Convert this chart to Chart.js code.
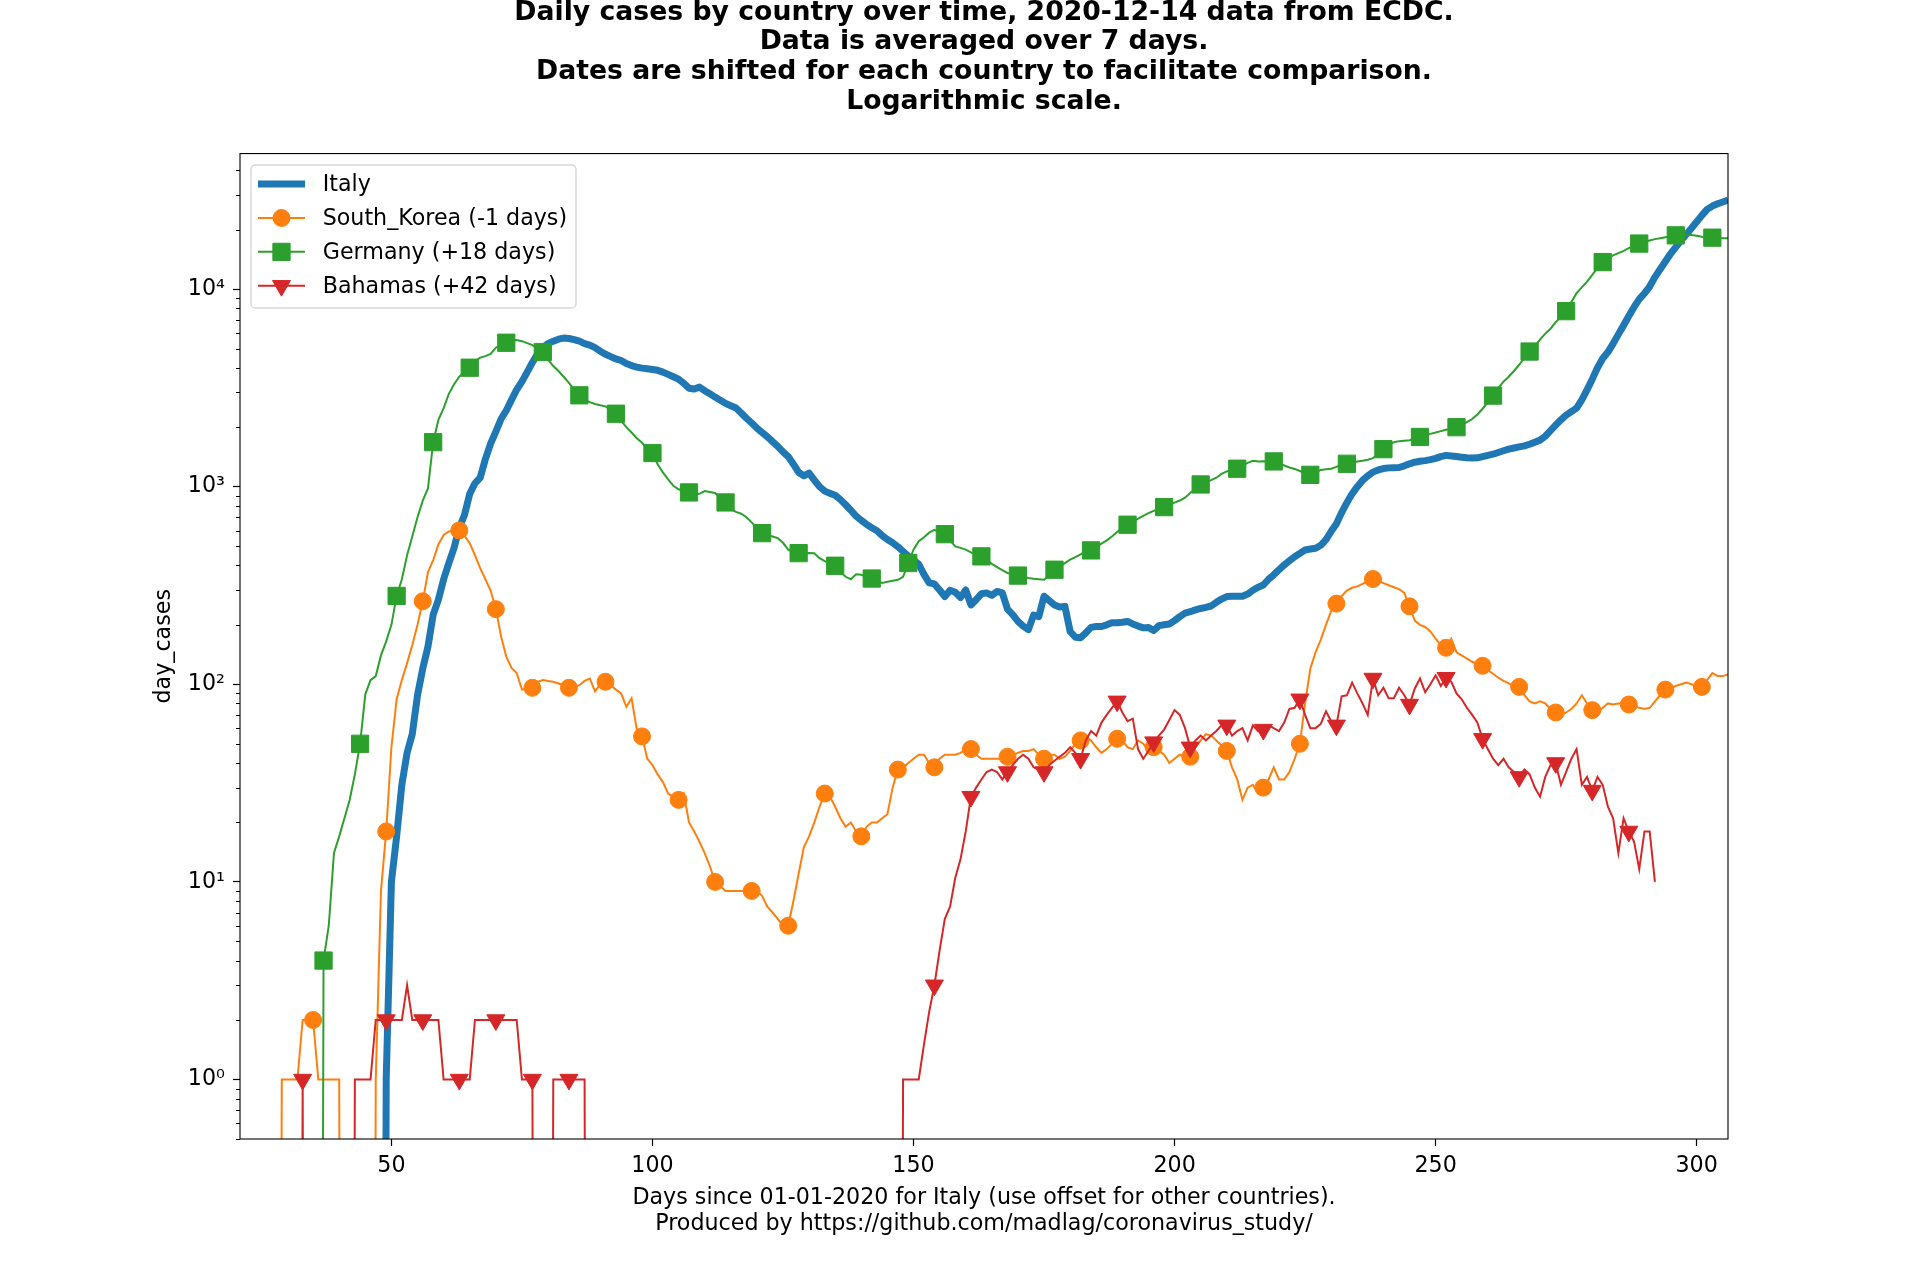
<!DOCTYPE html>
<html>
<head>
<meta charset="utf-8">
<title>Daily cases by country over time</title>
<script src="https://cdn.jsdelivr.net/npm/chart.js@4.4.1/dist/chart.umd.min.js"></script>
<style>
  html, body { margin: 0; padding: 0; background: #fff; }
  #wrap { width: 1920px; height: 1280px; position: relative; }
</style>
</head>
<body>
<div id="wrap"><canvas id="chart"></canvas></div>
<script>
/* ---------- texts ---------- */
const titleLines = [
  'Daily cases by country over time, 2020-12-14 data from ECDC.',
  'Data is averaged over 7 days.',
  'Dates are shifted for each country to facilitate comparison.',
  'Logarithmic scale.'
];
const xLabelLines = [
  'Days since 01-01-2020 for Italy (use offset for other countries).',
  'Produced by https://github.com/madlag/coronavirus_study/'
];
const yLabel = 'day_cases';

/* ---------- axes ---------- */
const xTicks = [50, 100, 150, 200, 250, 300];
const yTicks = [1, 10, 100, 1000, 10000];
const yTickLabels = ['10⁰', '10¹', '10²', '10³', '10⁴'];

/* ---------- series (7-day averaged daily cases, one value per day) ---------- */
const italyLabel = 'Italy';
const italyStart = 48;
const italyCases = [
  0, 1, 10, 17, 31, 45, 56, 88, 120, 155,
  225, 268, 340, 410, 490, 620, 720, 920, 1040, 1110,
  1380, 1650, 1900, 2200, 2430, 2750, 3100, 3400, 3800, 4250,
  4700, 5050, 5300, 5450, 5580, 5650, 5620, 5550, 5450, 5300,
  5200, 5050, 4850, 4680, 4550, 4430, 4350, 4200, 4100, 4030,
  3980, 3950, 3920, 3880, 3800, 3700, 3600, 3500, 3340, 3150,
  3120, 3190, 3060, 2950, 2840, 2740, 2640, 2570, 2500, 2360,
  2220, 2100, 1980, 1880, 1790, 1690, 1600, 1500, 1420, 1300,
  1180, 1135, 1170, 1080, 1000, 950, 925, 905, 860, 810,
  760, 710, 675, 645, 620, 598, 565, 540, 520, 497,
  470, 445, 425, 405, 360, 326, 322, 300, 278, 299,
  292, 275, 300, 252, 268, 287, 290, 282, 295, 290,
  240, 225, 208, 197, 189, 224, 220, 279, 265, 252,
  246, 248, 185, 173, 172, 182, 194, 196, 196, 200,
  205, 205, 206, 208, 202, 197, 193, 194, 187, 198,
  200, 202, 210, 220, 229, 233, 238, 242, 245, 249,
  260, 270, 278, 279, 279, 279, 286, 299, 310, 318,
  340, 358, 380, 402, 422, 442, 460, 478, 484, 488,
  505, 539, 595, 650, 740, 830, 920, 1000, 1075, 1135,
  1185, 1215, 1235, 1245, 1248, 1250, 1275, 1305, 1330, 1345,
  1355, 1370, 1390, 1420, 1440, 1430, 1420, 1410, 1400, 1395,
  1400, 1420, 1440, 1460, 1490, 1520, 1550, 1570, 1590, 1610,
  1640, 1680, 1720, 1800, 1920, 2050, 2180, 2300, 2400, 2500,
  2750, 3090, 3500, 4000, 4450, 4800, 5300, 5900, 6550, 7300,
  8100, 8900, 9500, 10300, 11500, 12600, 13800, 15100, 16300, 17600,
  18900, 20300, 21900, 23600, 25300, 26300, 27000, 27600, 28200
];

const koreaLabel = 'South_Korea (-1 days)';
const koreaStart = 28;
const koreaCases = [
  0, 1, 1, 1, 1, 2, 2, 2, 1, 1,
  1, 1, 1, 0, 0, 0, 0, 0, 0, 1,
  9, 18, 48, 84, 105, 128, 158, 200, 263, 370,
  425, 510, 570, 594, 598, 601, 565, 518, 450, 387,
  340, 298, 240, 175, 138, 121, 114, 94, 95, 96,
  103, 105, 104, 103, 101, 99, 96, 97, 99, 104,
  107, 92, 100, 103, 99, 94, 90, 77, 85, 59,
  54.5, 42, 39, 35, 32, 28, 27, 26, 28, 20,
  18, 16, 14, 12, 10, 9.5, 9, 9, 9, 9,
  9, 9, 9, 8.5, 7.5, 7, 6.5, 6, 6, 8,
  11, 15, 17, 20, 24, 28, 27, 24, 21, 19,
  20, 18, 17, 19, 20, 20, 21, 22, 30, 37,
  38, 40, 42, 44, 44, 40, 38, 42, 44, 44,
  44, 45, 47, 47, 44, 42, 42, 42, 42, 42,
  43, 44, 45, 46, 46, 47, 44, 42, 44, 44,
  42, 43, 46, 50, 52, 54, 52, 48, 45, 47,
  50, 53, 52, 48, 47, 52, 50, 46, 48, 46,
  44, 40, 42, 44, 43, 43, 48, 52, 56, 55,
  52, 49, 46, 38, 33, 26, 30, 31, 28, 30,
  33, 38, 33, 33, 36, 42, 50, 80, 120, 145,
  168, 200, 235, 256, 280, 298, 308, 313, 322, 332,
  341, 335, 325, 317, 310, 303, 290, 248, 210, 200,
  195, 185, 170, 158, 153, 170, 145, 140, 135, 130,
  127, 124, 118, 113, 108, 104, 101, 98, 97, 88,
  82, 80, 82, 80, 75, 72, 70, 72, 75, 80,
  88, 80, 74, 72, 76, 80, 79, 80, 80, 79,
  78, 76, 75, 76, 82, 88, 94, 96, 98, 100,
  102, 100, 98, 97, 105, 114, 110, 110, 112
];

const germanyLabel = 'Germany (+18 days)';
const germanyStart = 36;
const germanyCases = [
  0, 4, 6, 14, 17, 21, 26, 35, 50, 89,
  105, 110, 140, 165, 200, 280, 340, 450, 560, 700,
  850, 980, 1680, 2180, 2500, 2950, 3300, 3600, 3800, 4000,
  4300, 4500, 4580, 4700, 5050, 5250, 5350, 5500, 5530, 5450,
  5330, 5200, 5000, 4800, 4400, 4080, 3850, 3600, 3350, 3100,
  2900, 2750, 2680, 2620, 2580, 2550, 2450, 2340, 2150, 2000,
  1880, 1760, 1670, 1560, 1480, 1300, 1180, 1090, 1010, 970,
  950, 935, 915, 920, 950, 940, 930, 880, 832, 770,
  745, 730, 700, 660, 620, 582, 570, 560, 549, 520,
  480, 468, 461, 461, 462, 460, 435, 420, 408, 398,
  370, 350, 340, 360, 358, 350, 343, 335, 326, 330,
  334, 338, 350, 411, 480, 530, 555, 585, 605, 590,
  575, 535, 499, 490, 480, 465, 452, 444, 425, 407,
  392, 378, 366, 360, 355, 350, 345, 342, 340, 338,
  355, 380, 395, 410, 427, 440, 455, 470, 476, 495,
  515, 535, 560, 590, 620, 642, 665, 690, 712, 735,
  755, 775, 788, 810, 830, 851, 880, 930, 980, 1026,
  1055, 1080, 1110, 1160, 1194, 1215, 1233, 1280, 1320, 1352,
  1342, 1345, 1342, 1342, 1310, 1280, 1250, 1230, 1200, 1170,
  1148, 1180, 1216, 1225, 1233, 1260, 1290, 1306, 1320, 1340,
  1352, 1370, 1395, 1460, 1548, 1620, 1680, 1700, 1710, 1720,
  1750, 1785, 1820, 1850, 1880, 1910, 1940, 1970, 2000, 2050,
  2120, 2200, 2320, 2480, 2680, 2890, 3150, 3400, 3600, 3850,
  4140, 4480, 4830, 5150, 5550, 5950, 6300, 6800, 7250, 7730,
  8600, 9530, 10200, 10900, 11800, 12800, 13700, 14300, 14800, 15200,
  15600, 16100, 16600, 17000, 17300, 17600, 17900, 18100, 18300, 18500,
  18700, 18800, 18900, 18800, 18600, 18400, 18300, 18200, 18150, 18100, 18100
];

const bahamasLabel = 'Bahamas (+42 days)';
const bahamasStart = 32;
const bahamasCases = [
  0, 1, 0, 0, 0, 0, 0, 0, 0, 0,
  0, 1, 1, 1, 1, 2, 2, 2, 2, 2,
  2, 3, 2, 2, 2, 2, 2, 2, 1, 1,
  1, 1, 1, 1, 2, 2, 2, 2, 2, 2,
  2, 2, 2, 1, 1, 1, 0, 0, 0, 1,
  1, 1, 1, 1, 1, 1, 0, 0, 0, 0,
  0, 0, 0, 0, 0, 0, 0, 0, 0, 0,
  0, 0, 0, 0, 0, 0, 0, 0, 0, 0,
  0, 0, 0, 0, 0, 0, 0, 0, 0, 0,
  0, 0, 0, 0, 0, 0, 0, 0, 0, 0,
  0, 0, 0, 0, 0, 0, 0, 0, 0, 0,
  0, 0, 0, 0, 0, 0, 1, 1, 1, 1,
  1.5, 2.2, 3, 4.5, 6.5, 7.5, 10.5, 13, 18, 27,
  30, 33, 36, 37, 36, 33, 36, 39, 42, 44,
  42, 38, 37, 36, 39, 41, 43, 45, 48, 45,
  42, 52, 58, 55, 64, 70, 76, 82, 72, 65,
  67, 47, 42, 46, 51, 55, 59, 66, 74, 70,
  60, 48, 52, 55, 52, 55, 58, 62, 62, 55,
  58, 60, 52, 62, 58, 59, 62, 60, 58, 64,
  75, 76, 84, 70, 60, 60, 63, 73, 65, 62,
  87, 88, 102, 90, 80, 70, 107, 88, 96, 85,
  85, 96, 88, 79, 95, 107, 91, 100, 111, 98,
  108, 103, 90, 84, 76, 70, 64, 53, 47, 42,
  39, 42, 38, 36, 34, 37, 35, 30, 27, 34,
  39, 40, 31, 36, 42, 47, 31, 34, 29, 34,
  31, 24, 21, 14, 21, 18, 16, 11.6, 18, 18, 10
];

// markers are drawn every 7th day (day % 7 === phase), plus odd extra days
const koreaMarkPhase = 0;
const germanyMarkPhase = 2;
const bahamasMarkPhase = 0;
const bahamasExtraMarks = [33];

const FONT = "'DejaVu Sans', sans-serif";
const LOG_FLOOR = 1e-9; // zero days are clipped far below the axis, like a log plot does

Chart.defaults.font.family = FONT;
Chart.defaults.color = '#000';

function toPoints(start, values) {
  return values.map((v, i) => ({ x: start + i, y: v > 0 ? v : LOG_FLOOR }));
}

function markerRadius(start, values, phase, extra, r) {
  return ctx => {
    const i = ctx.dataIndex;
    const day = start + i;
    if (!(values[i] > 0)) return 0;
    return (day % 7 === phase || extra.includes(day)) ? r : 0;
  };
}

// Axes box + minor log ticks
const axesFrame = {
  id: 'axesFrame',
  afterDatasetsDraw(chart) {
    const { ctx, chartArea: a } = chart;
    const y = chart.scales.y;
    ctx.save();
    ctx.strokeStyle = '#000';
    ctx.lineWidth = 1.1;
    ctx.strokeRect(a.left, a.top, a.right - a.left, a.bottom - a.top);
    ctx.lineWidth = 1;
    ctx.beginPath();
    for (let dec = 0.1; dec < y.max; dec *= 10) {
      for (let m = 2; m <= 9; m++) {
        const v = m * dec;
        if (v < y.min * 0.999 || v > y.max) continue;
        const py = Math.round(y.getPixelForValue(v)) + 0.5;
        ctx.moveTo(a.left - 4, py);
        ctx.lineTo(a.left, py);
      }
    }
    ctx.stroke();
    ctx.restore();
  }
};

// Matplotlib-like legend box in the upper left of the axes
const mplLegend = {
  id: 'mplLegend',
  afterDraw(chart) {
    const { ctx, chartArea: a } = chart;
    const bx = a.left + 11, by = a.top + 11.5, bw = 325, bh = 143;
    ctx.save();
    ctx.beginPath();
    ctx.roundRect(bx, by, bw, bh, 4.4);
    ctx.fillStyle = 'rgba(255,255,255,0.8)';
    ctx.fill();
    ctx.lineWidth = 1.4;
    ctx.strokeStyle = 'rgba(204,204,204,0.8)';
    ctx.stroke();

    chart.data.datasets.forEach((ds, i) => {
      const y = by + 19 + i * 33.9;
      const x0 = bx + 7, x1 = bx + 54;
      ctx.strokeStyle = ds.borderColor;
      ctx.lineWidth = ds.borderWidth;
      ctx.beginPath();
      ctx.moveTo(x0, y);
      ctx.lineTo(x1, y);
      ctx.stroke();
      if (ds.markerSize) {
        ctx.fillStyle = ds.pointBackgroundColor;
        ctx.strokeStyle = ds.pointBorderColor;
        ctx.lineWidth = 1;
        Chart.helpers.drawPoint(ctx, {
          pointStyle: ds.pointStyle,
          radius: ds.markerSize,
          rotation: ds.pointRotation || 0,
          borderWidth: 1
        }, (x0 + x1) / 2, y);
      }
      ctx.fillStyle = '#000';
      ctx.font = '22.2px ' + FONT;
      ctx.textAlign = 'left';
      ctx.textBaseline = 'middle';
      ctx.fillText(ds.label, bx + 71.7, y + 1);
    });
    ctx.restore();
  }
};

const tickFont = { family: FONT, size: 22.2 };
const tickGrid = {
  drawOnChartArea: false,
  drawTicks: true,
  tickLength: 7,
  tickColor: '#000',
  tickWidth: 1.2
};

new Chart(document.getElementById('chart'), {
  type: 'line',
  data: {
    datasets: [
      {
        label: italyLabel,
        data: toPoints(italyStart, italyCases),
        borderColor: '#1f77b4',
        borderWidth: 7,
        borderJoinStyle: 'round',
        pointRadius: 0,
        order: 4
      },
      {
        label: koreaLabel,
        data: toPoints(koreaStart, koreaCases),
        borderColor: '#ff7f0e',
        borderWidth: 2,
        pointStyle: 'circle',
        pointRadius: markerRadius(koreaStart, koreaCases, koreaMarkPhase, [], 8.5),
        markerSize: 8.5,
        pointBackgroundColor: '#ff7f0e',
        pointBorderColor: '#ff7f0e',
        pointBorderWidth: 1,
        order: 3
      },
      {
        label: germanyLabel,
        data: toPoints(germanyStart, germanyCases),
        borderColor: '#2ca02c',
        borderWidth: 2,
        pointStyle: 'rect',
        pointRadius: markerRadius(germanyStart, germanyCases, germanyMarkPhase, [], 12.2),
        markerSize: 12.2,
        pointBackgroundColor: '#2ca02c',
        pointBorderColor: '#2ca02c',
        pointBorderWidth: 1,
        order: 2
      },
      {
        label: bahamasLabel,
        data: toPoints(bahamasStart, bahamasCases),
        borderColor: '#d62728',
        borderWidth: 2,
        pointStyle: 'triangle',
        pointRotation: 180,
        pointRadius: markerRadius(bahamasStart, bahamasCases, bahamasMarkPhase, bahamasExtraMarks, 10.4),
        markerSize: 10.4,
        pointBackgroundColor: '#d62728',
        pointBorderColor: '#d62728',
        pointBorderWidth: 1,
        order: 1
      }
    ]
  },
  options: {
    responsive: true,
    maintainAspectRatio: false,
    animation: false,
    events: [],
    layout: { padding: { left: 0, right: 192, top: 0, bottom: 0 } },
    plugins: {
      legend: { display: false },
      tooltip: { enabled: false },
      title: {
        display: true,
        fullSize: false,
        text: titleLines,
        color: '#000',
        font: { family: FONT, size: 26.7, weight: 'bold', lineHeight: 1.112 },
        padding: { top: -2, bottom: 36.8 }
      }
    },
    scales: {
      x: {
        type: 'linear',
        min: 21,
        max: 306,
        afterBuildTicks: s => { s.ticks = xTicks.map(v => ({ value: v })); },
        afterFit: s => { s.height = 141; },
        grid: tickGrid,
        border: { display: false },
        ticks: {
          font: tickFont,
          color: '#000',
          padding: 7,
          maxRotation: 0,
          autoSkip: false,
          callback: v => String(v)
        },
        title: {
          display: true,
          text: xLabelLines,
          color: '#000',
          font: { family: FONT, size: 22.2, lineHeight: 1.158 },
          padding: { top: 0, bottom: 43 }
        }
      },
      y: {
        type: 'logarithmic',
        min: 0.5,
        max: 48500,
        afterBuildTicks: s => { s.ticks = yTicks.map(v => ({ value: v })); },
        afterFit: s => { s.width = 240; },
        grid: tickGrid,
        border: { display: false },
        ticks: {
          font: tickFont,
          color: '#000',
          padding: 8,
          autoSkip: false,
          callback: (v, i) => yTickLabels[i]
        },
        title: {
          display: true,
          text: yLabel,
          color: '#000',
          font: { family: FONT, size: 22.2 },
          padding: { top: 151, bottom: 0 }
        }
      }
    }
  },
  plugins: [axesFrame, mplLegend]
});
</script>
</body>
</html>
